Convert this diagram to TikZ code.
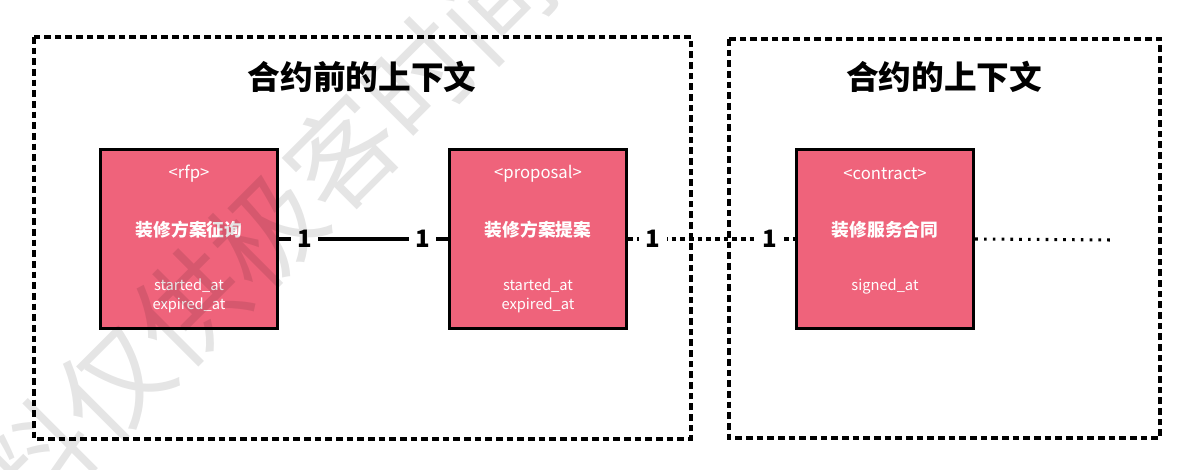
\documentclass[tikz,border=0pt]{standalone}
\usepackage{fontspec}
\setmainfont{Noto Sans CJK SC}
\definecolor{boxpink}{RGB}{239,99,123}

\begin{document}
\begin{tikzpicture}[x=0.75pt, y=-0.75pt,
    context/.style={line width=\borderw, dash pattern=on 5pt off 3pt},
    heading/.style={font=\fontsize{24.5}{28}\selectfont\bfseries},
    entity/.style={draw, line width=\borderw, fill=boxpink, inner sep=0pt,
                   minimum width=133pt, minimum height=134.5pt},
    tag/.style={text=white, font=\fontsize{12.5}{14}\selectfont},
    cname/.style={text=white, font=\fontsize{13.3}{16}\selectfont\bfseries},
    attr/.style={text=white, align=center, font=\fontsize{11}{14.2}\selectfont},
    card/.style={fill=white, inner xsep=5pt, inner ysep=1pt,
                 font=\fontsize{18}{20}\selectfont\bfseries},
    link/.style={line width=\borderw},
    weaklink/.style={line width=\borderw, dash pattern=on 3.5pt off 3pt},
    tailline/.style={line width=\borderw, dash pattern=on 2pt off 4.6pt},
    watermark/.style={text=black, opacity=0.1, rotate=45,
                      font=\fontsize{81}{81}\selectfont}]
\newcommand\borderw{2.3pt}
\useasboundingbox (0,0) rectangle (1192,470);
%
%  +---------------------+  +-----------+
%  | [rfp]----[proposal]-|--|-[contract]....
%  +---------------------+  +-----------+
%
%contexts..................
\draw[context] (34,37) rectangle (691,439); %before the contract
\draw[context] (729,39) rectangle (1160,438); %the contract
\node[heading] (pretitle) at (362,77) {合约前的上下文};
\node[heading] (ctitle) at (944,77) {合约的上下文};
%
%entities..................
\node[entity] (rfp) at (189,239) {};
\node[tag] (rfp-tag) at (189,174) {<rfp>};
\node[cname] (rfp-name) at (189,230) {装修方案征询};
\node[attr] (rfp-attr) at (189,296) {started\_at\\expired\_at};
%
\node[entity] (proposal) at (538,239) {};
\node[tag] (proposal-tag) at (538,174) {<proposal>};
\node[cname] (proposal-name) at (538,230) {装修方案提案};
\node[attr] (proposal-attr) at (538,296) {started\_at\\expired\_at};
%
\node[entity] (contract) at (885,239) {};
\node[tag] (contract-tag) at (885,174) {<contract>};
\node[cname] (contract-name) at (885,230) {装修服务合同};
\node[attr] (contract-attr) at (885,286) {signed\_at};
%
%links.....................
\draw[link] (rfp.east) --
    node[card, pos=0.15] (rfp-one) {1}
    node[card, pos=0.85] (proposal-one) {1} (proposal.west);
\draw[weaklink] (proposal.east) --
    node[card, pos=0.15] (proposal-two) {1}
    node[card, pos=0.85] (contract-one) {1} (contract.west);
\coordinate (tail) at (1113,240); %open end
\draw[tailline] (contract.east) -- (tail);
%
%watermark
\node[watermark] (wm) at (266,230) {料仅供极客时间};
\end{tikzpicture}
\end{document}
